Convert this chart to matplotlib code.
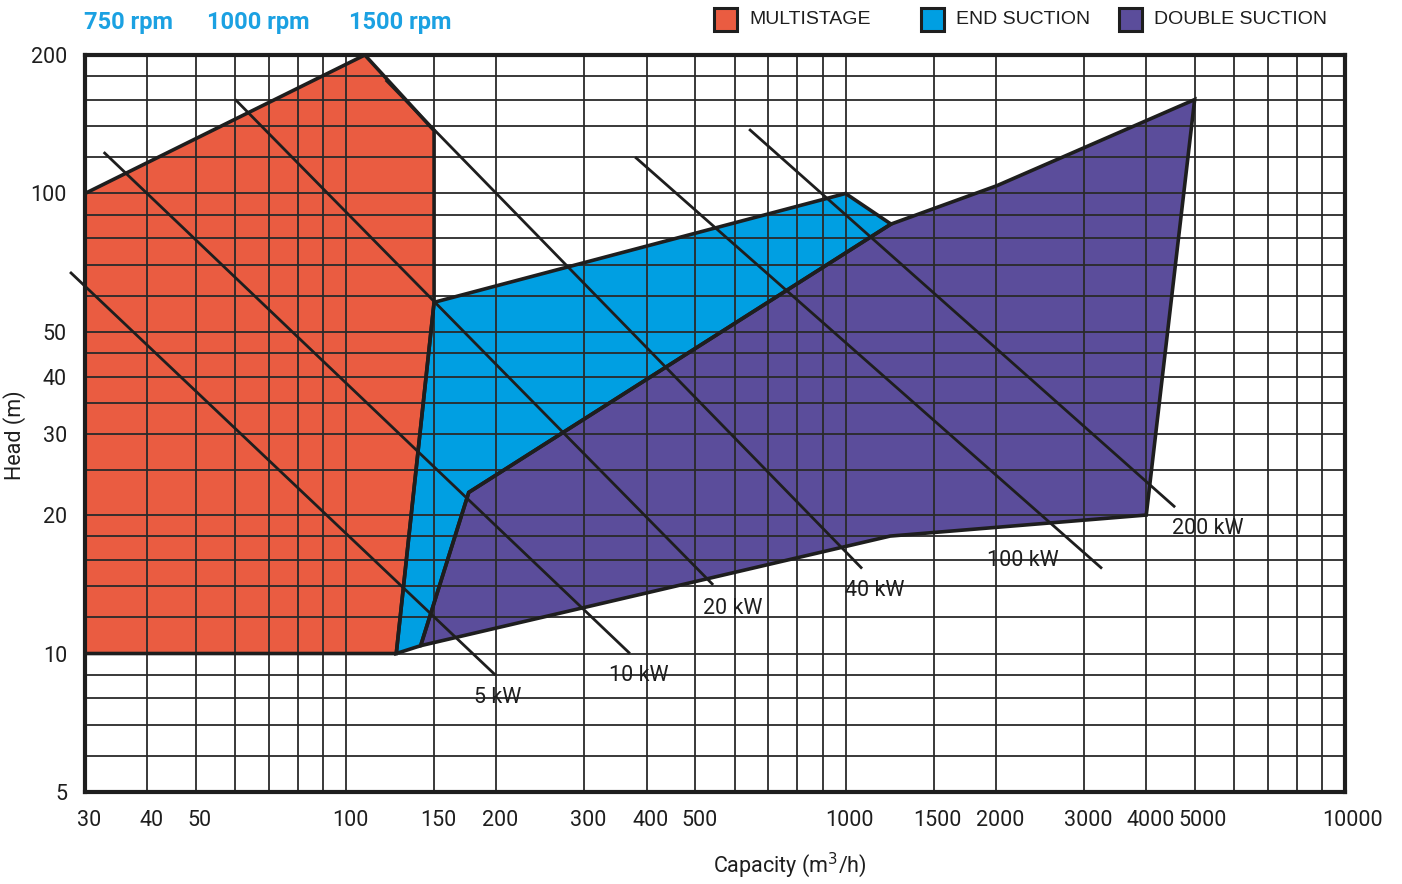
import matplotlib
matplotlib.use("Agg")
import matplotlib.pyplot as plt
import matplotlib.transforms as mtransforms
from matplotlib.patches import Rectangle
from matplotlib.ticker import NullLocator

# pump families, capacity (m3/h) and head (m) of polygon corners
multistage_q = [30, 109, 150, 150, 126, 30]
multistage_h = [100, 200, 137, 58, 10, 10]

end_suction_q = [126, 150, 1000, 1233, 176, 141]
end_suction_h = [10, 58, 100, 85.8, 22.4, 10.4]

double_suction_q = [141, 176, 1233, 2010, 5000, 4000, 1228]
double_suction_h = [10.4, 22.4, 85.8, 104, 160, 20, 18.0]

# constant power lines (start, end)
power_labels = ["5 kW", "10 kW", "20 kW", "40 kW", "100 kW", "200 kW"]
power_q = [(28.0, 199), (32.7, 370), (60, 543), (120, 1079), (379, 3262), (641, 4569)]
power_h = [(67.5, 8.98), (123, 10), (160, 14.1), (176.5, 15.3), (120, 15.3), (138, 20.8)]
label_q = [180, 336, 518, 998, 1920, 4506]
label_h = [8.04, 8.98, 12.5, 13.7, 15.9, 18.7]

x_grid = [30, 40, 50, 60, 70, 80, 90, 100, 150, 200, 300, 400, 500, 600, 700, 800, 900,
          1000, 1500, 2000, 3000, 4000, 5000, 6000, 7000, 8000, 9000, 10000]
y_grid = [5, 6, 7, 8, 9, 10, 12, 14, 16, 18, 20, 25, 30, 35, 40, 45, 50, 60, 70, 80, 90,
          100, 120, 140, 160, 180, 200]
x_ticks = [30, 40, 50, 100, 150, 200, 300, 400, 500, 1000, 1500, 2000, 3000, 4000, 5000, 10000]
y_ticks = [5, 10, 20, 30, 40, 50, 100, 200]

rpm_labels = ["750 rpm", "1000 rpm", "1500 rpm"]
legend_names = ["MULTISTAGE", "END SUCTION", "DOUBLE SUCTION"]

RED = "#EA5C41"
BLUE = "#009FE2"
PURPLE = "#5B4D9B"
INK = "#1e1e1e"
FONT = ["Roboto", "DejaVu Sans"]

plt.rcParams["font.family"] = FONT

fig = plt.figure(figsize=(14.02, 8.84), dpi=100)
ax = fig.add_axes([85 / 1402, 1 - 792 / 884, 1260 / 1402, 737 / 884])

ax.set_xscale("log")
ax.set_yscale("log")
ax.set_xlim(30, 10000)
ax.set_ylim(5, 200)

for q, h, c in [(multistage_q, multistage_h, RED),
                (end_suction_q, end_suction_h, BLUE),
                (double_suction_q, double_suction_h, PURPLE)]:
    ax.fill(q, h, facecolor=c, edgecolor="none", zorder=1)
for q, h in [(multistage_q, multistage_h), (end_suction_q, end_suction_h),
             (double_suction_q, double_suction_h)]:
    ax.fill(q, h, facecolor="none", edgecolor=INK, lw=2.6, zorder=4, joinstyle="miter")

for (q0, q1), (h0, h1) in zip(power_q, power_h):
    ax.plot([q0, q1], [h0, h1], color=INK, lw=2, zorder=5, solid_capstyle="butt",
            clip_on=False)
for txt, q, h in zip(power_labels, label_q, label_h):
    ax.text(q, h, txt, fontsize=15.5, color=INK, ha="left", va="center", zorder=6)

ax.set_xticks(x_grid, labels=[str(v) if v in x_ticks else "" for v in x_grid])
ax.set_yticks(y_grid, labels=[str(v) if v in y_ticks else "" for v in y_grid])
ax.xaxis.set_minor_locator(NullLocator())
ax.yaxis.set_minor_locator(NullLocator())
ax.tick_params(length=0, labelsize=15.5, labelcolor=INK)
ax.tick_params(axis="x", pad=13)
ax.tick_params(axis="y", pad=13)
ax.grid(True, color="#2a2a2a", lw=1.3, zorder=2.5)
ax.set_axisbelow(False)
for s in ax.spines.values():
    s.set_linewidth(3)
    s.set_color(INK)
    s.set_zorder(7)

# labels in the original sit a little right of their grid lines
for v, lab in zip(x_grid, ax.get_xticklabels()):
    dx = 4
    if v == 5000:
        dx = 8
    elif v == 10000:
        dx = 8
    lab.set_transform(lab.get_transform() +
                      mtransforms.ScaledTranslation(dx / 100, 0, fig.dpi_scale_trans))

ax.set_xlabel("Capacity (m$^3$/h)", fontsize=15.5, color=INK)
ax.xaxis.set_label_coords(0.5595, -0.08)
ax.set_ylabel("Head (m)", fontsize=15.5, color=INK)
ax.yaxis.set_label_coords(-0.047, 0.484)

# rpm captions
for txt, x in zip(rpm_labels, [84, 207, 349]):
    fig.text(x / 1402, 1 - 22 / 884, txt, fontsize=17, fontweight="bold", color="#1BA1E2",
             ha="left", va="center")

# legend boxes
for name, c, bx in zip(legend_names, [RED, BLUE, PURPLE], [714, 921, 1119]):
    fig.add_artist(Rectangle((bx / 1402, 1 - 31 / 884), 23 / 1402, 23 / 884,
                             transform=fig.transFigure, facecolor=c, edgecolor=INK, lw=2.2))
    fig.text((bx + 35) / 1402, 1 - 19.5 / 884, name, fontsize=14, color=INK,
             family=["Liberation Sans", "DejaVu Sans"], ha="left", va="center")

fig.savefig("out.png", dpi=100)
